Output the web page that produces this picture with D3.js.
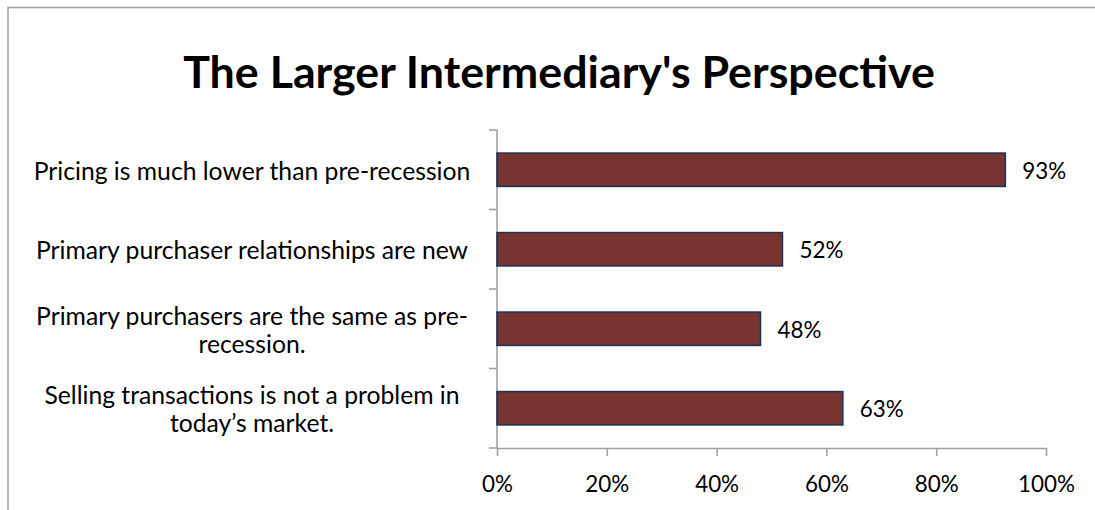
<!DOCTYPE html>
<html>
<head>
<meta charset="utf-8">
<script src="https://cdn.jsdelivr.net/npm/d3@7"></script>
<style>
  html, body { margin: 0; padding: 0; background: #fff; }
  svg { display: block; }
</style>
</head>
<body>
<svg id="chart" width="1095" height="510"></svg>
<script>
// ---- data ----
const titleText = "The Larger Intermediary's Perspective";
const categories = [
  ["Pricing is much lower than pre-recession"],
  ["Primary purchaser relationships are new"],
  ["Primary purchasers are the same as pre-", "recession."],
  ["Selling transactions is not a problem in", "today\u2019s market."]
];
const values = [0.926, 0.52, 0.48, 0.63];
const valueLabels = ["93%", "52%", "48%", "63%"];
const xTicks = [0, 0.2, 0.4, 0.6, 0.8, 1.0];
const xTickLabels = ["0%", "20%", "40%", "60%", "80%", "100%"];

// ---- layout ----
const W = 1095, H = 510;
const plot = { left: 497, right: 1046, top: 130, bottom: 448 };
const axisColor = "#a0a0a0";
const barFill = "#773430";
const barStroke = "#1d3152";
const fontFam = "Lato, 'Open Sans', sans-serif";

const svg = d3.select("#chart");

// chart border
svg.append("rect")
  .attr("x", 8).attr("y", 7.5)
  .attr("width", W + 20).attr("height", H + 20)
  .attr("fill", "#fff")
  .attr("stroke", "#a6a6a6").attr("stroke-width", 1.6);

// helper: font size fitting a target width
function fitSize(text, weight, targetWidth) {
  const t = svg.append("text").attr("font-family", fontFam)
    .attr("font-weight", weight).attr("font-size", 100).text(text);
  const w = t.node().getComputedTextLength();
  t.remove();
  return 100 * targetWidth / w;
}

const x = d3.scaleLinear().domain([0, 1]).range([plot.left, plot.right]);
const y = d3.scaleBand().domain(d3.range(categories.length))
  .range([plot.top, plot.bottom]).paddingInner(0.58).paddingOuter(0.29);
const yEdges = d3.scaleLinear().domain([0, categories.length]).range([plot.top, plot.bottom]);

// title
const titleSize = fitSize(titleText, 700, 752);
svg.append("text")
  .attr("x", 559).attr("y", 88)
  .attr("text-anchor", "middle")
  .attr("font-family", fontFam).attr("font-weight", 700)
  .attr("font-size", titleSize).attr("fill", "#000")
  .text(titleText);

// axes
const xAxis = d3.axisBottom(x).tickValues(xTicks)
  .tickFormat((d, i) => xTickLabels[i]).tickSize(8).tickSizeOuter(0);
const tickSize = fitSize("100%", 400, 57);
const gx = svg.append("g").attr("transform", `translate(0,${plot.bottom})`).call(xAxis);
gx.select(".domain").attr("stroke", axisColor).attr("stroke-width", 1.6);
gx.selectAll(".tick line").attr("stroke", axisColor).attr("stroke-width", 1.6);
gx.selectAll(".tick text")
  .attr("font-family", fontFam).attr("font-size", tickSize)
  .attr("fill", "#000").attr("dy", null).attr("y", 44);

// y axis line and ticks at category boundaries
svg.append("line")
  .attr("x1", plot.left).attr("x2", plot.left)
  .attr("y1", plot.top).attr("y2", plot.bottom)
  .attr("stroke", axisColor).attr("stroke-width", 1.6);
svg.selectAll("line.ytick").data(d3.range(categories.length + 1)).join("line")
  .attr("class", "ytick")
  .attr("x1", plot.left - 8).attr("x2", plot.left)
  .attr("y1", d => yEdges(d)).attr("y2", d => yEdges(d))
  .attr("stroke", axisColor).attr("stroke-width", 1.6);

// bars
svg.selectAll("rect.bar").data(values).join("rect")
  .attr("class", "bar")
  .attr("x", x(0))
  .attr("y", (d, i) => y(i))
  .attr("width", d => x(d) - x(0))
  .attr("height", y.bandwidth())
  .attr("fill", barFill)
  .attr("stroke", barStroke).attr("stroke-width", 1.5);

// value labels
svg.selectAll("text.val").data(values).join("text")
  .attr("class", "val")
  .attr("x", d => x(d) + 17)
  .attr("y", (d, i) => y(i) + y.bandwidth() / 2 + 9)
  .attr("font-family", fontFam).attr("font-size", tickSize)
  .attr("fill", "#000")
  .text((d, i) => valueLabels[i]);

// category labels
const catSize = fitSize(categories[0][0], 400, 437);
const lineH = 28;
categories.forEach((lines, i) => {
  const c = (yEdges(i) + yEdges(i + 1)) / 2;
  const t = svg.append("text")
    .attr("text-anchor", "middle")
    .attr("font-family", fontFam).attr("font-size", catSize).attr("fill", "#000");
  lines.forEach((ln, j) => {
    t.append("tspan").attr("x", 252)
      .attr("y", c + 10 - (lines.length - 1) * lineH / 2 + j * lineH)
      .text(ln);
  });
});
</script>
</body>
</html>
